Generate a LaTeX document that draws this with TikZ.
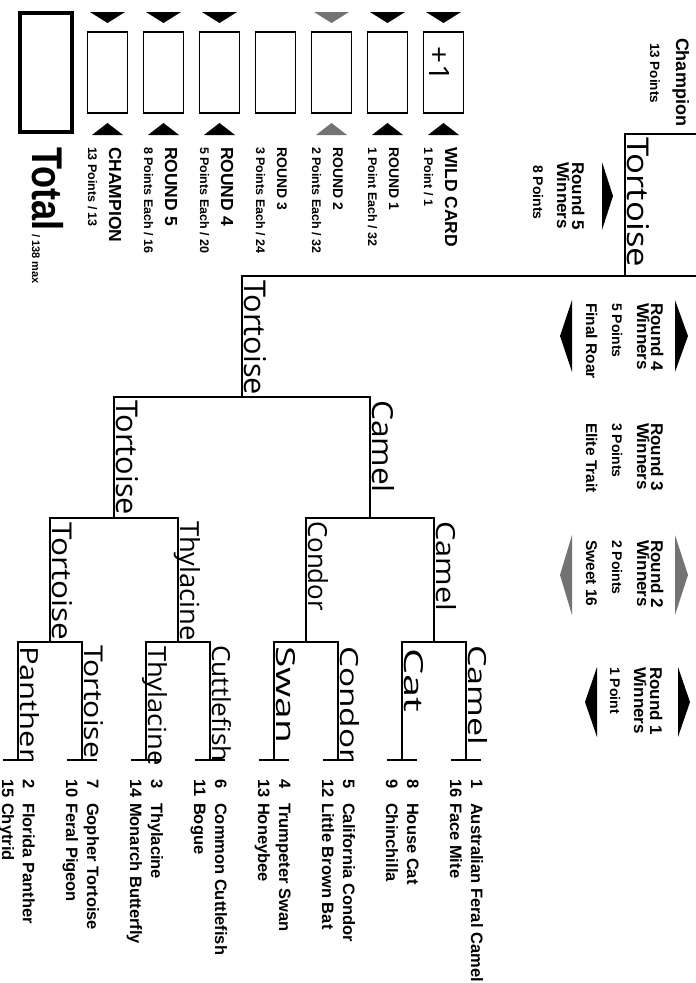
\documentclass[tikz,border=0pt]{standalone}
\usepackage{fontspec}
\usepackage{graphicx}
\setmainfont{Liberation Sans}
\newfontfamily\handfont{Open Sans}
\newcommand\fs[1]{\fontsize{#1}{#1}\selectfont}
\newcommand\hwr[3]{\resizebox{#1pt}{#2pt}{\handfont #3}}
\tikzset{
  br/.style={line width=2.4pt, line join=miter},
  txt/.style={rotate=-90, anchor=base west, inner sep=0pt, outer sep=0pt},
  ttl/.style={txt, font=\bfseries\fs{#1}},
  smalltxt/.style={txt, font=\bfseries\fs{#1}},
  sbox/.style={draw, line width=1.8pt, minimum width=40pt, minimum height=81pt, inner sep=0pt},
  tri/.style={fill=black},
  gtri/.style={fill=black!55},
}
\newcommand\legendcol[5]{%
  \node[sbox] (#2) at (#1+20.5,72.5) {};
  \node[ttl=#4] (#2-t) at (#1+22,147) {#3};
  \node[smalltxt=12.5] (#2-s) at (#1+1,147) {#5};
}
\newcommand\legtri[2]{%
  \fill[#2] (#1+3,12) -- (#1+38,12) -- (#1+20.5,23) -- cycle;
  \fill[#2] (#1+5,135) -- (#1+36,135) -- (#1+20.5,123) -- cycle;
}
\newcommand\seed[6]{% x, name, num1, name1, num2, name2
  \node[ttl=16.5] (#2-an) at (#1+5,779) {#3};
  \node[ttl=16.5] (#2-a) at (#1+5,803) {#4};
  \node[ttl=16.5] (#2-bn) at (#1-16,779) {#5};
  \node[ttl=16.5] (#2-b) at (#1-16,803) {#6};
}
\begin{document}
\begin{tikzpicture}[x=1pt,y=-1pt]
\path[use as bounding box] (0,0) rectangle (696,983);

% ---------- legend ----------
\node[draw, line width=3.5pt, minimum width=52pt, minimum height=119pt, inner sep=0pt] (total) at (46,72.5) {};
\node[txt, font=\bfseries\fs{43}] (totalt) at (32,147) {\scalebox{0.84}[1]{Total}};
\node[smalltxt=11] (totalm) at (32,234) {/ 138 max};

\legendcol{87}{champ}{CHAMPION}{17.5}{13 Points / 13}
\legendcol{143}{rv}{ROUND 5}{17.5}{8 Points Each / 16}
\legendcol{199}{riv}{ROUND 4}{17.5}{5 Points Each / 20}
\legendcol{255}{riii}{ROUND 3}{14}{3 Points Each / 24}
\legendcol{311}{rii}{ROUND 2}{14}{2 Points Each / 32}
\legendcol{367}{ri}{ROUND 1}{14}{1 Point Each / 32}
\legendcol{423}{wc}{WILD CARD}{17.5}{1 Point / 1}
\legtri{87}{tri}
\legtri{143}{tri}
\legtri{199}{tri}
\legtri{311}{gtri}
\legtri{367}{tri}
\legtri{423}{tri}
\node[txt, anchor=center] (plus) at (439,64) {\hwr{34}{20}{+1}};

% ---------- round headers ----------
\node[ttl=18] (hch) at (676,38) {Champion};
\node[smalltxt=13.5] (hchp) at (650,43) {13 Points};

\node[ttl=17] (h5a) at (572,162) {Round 5};
\node[ttl=17] (h5b) at (557,162) {Winners};
\node[smalltxt=14] (h5c) at (533,165) {8 Points};
\fill[tri] (602,162) -- (613,196) -- (602,230) -- cycle;

\node[ttl=17] (h4a) at (651,303) {Round 4};
\node[ttl=17] (h4b) at (637,303) {Winners};
\node[smalltxt=14] (h4c) at (612,303) {5 Points};
\node[ttl=15.5] (h4d) at (586,303) {Final Roar};
\fill[tri] (675,300) -- (688,336) -- (675,372) -- cycle;
\fill[tri] (572,300) -- (560,336) -- (572,372) -- cycle;

\node[ttl=17] (h3a) at (651,423) {Round 3};
\node[ttl=17] (h3b) at (637,423) {Winners};
\node[smalltxt=14] (h3c) at (612,423) {3 Points};
\node[ttl=15.5] (h3d) at (586,423) {Elite Trait};

\node[ttl=17] (h2a) at (651,540) {Round 2};
\node[ttl=17] (h2b) at (637,540) {Winners};
\node[smalltxt=14] (h2c) at (612,540) {2 Points};
\node[ttl=15.5] (h2d) at (586,540) {Sweet 16};
\fill[gtri] (675,535) -- (688,575) -- (675,615) -- cycle;
\fill[gtri] (572,535) -- (560,575) -- (572,615) -- cycle;

\node[ttl=17] (h1a) at (650,667) {Round 1};
\node[ttl=17] (h1b) at (634,667) {Winners};
\node[smalltxt=14] (h1c) at (610,667) {1 Point};
\fill[tri] (678,667) -- (690,702) -- (678,737) -- cycle;
\fill[tri] (597,667) -- (585,702) -- (597,737) -- cycle;

% ---------- bracket ----------
\foreach \i/\x in {1/18,2/82,3/146,4/210,5/274,6/338,7/402,8/466}{
  \coordinate (L\i) at (\x,642);
  \coordinate (L\i b) at (\x,760);
  \draw[br] ([xshift=-15pt]L\i b) -- ([xshift=15pt]L\i b);
}
\foreach \i/\x in {1/50,2/178,3/306,4/434}{
  \coordinate (M\i) at (\x,642);
  \coordinate (M\i t) at (\x,518);
}
\coordinate (N1) at (114,518); \coordinate (N1t) at (114,397);
\coordinate (N2) at (370,518); \coordinate (N2t) at (370,397);
\coordinate (O) at (242,397);  \coordinate (Ot) at (242,276);
\coordinate (E1) at (696,276);
\coordinate (P) at (625,276);  \coordinate (Pt) at (625,134);
\coordinate (E2) at (696,134);

\draw[br] (L1b) -- (L1) -- (L2) -- (L2b);
\draw[br] (L3b) -- (L3) -- (L4) -- (L4b);
\draw[br] (L5b) -- (L5) -- (L6) -- (L6b);
\draw[br] (L7b) -- (L7) -- (L8) -- (L8b);
\draw[br] (M1) -- (M1t) -- (M2t) -- (M2);
\draw[br] (M3) -- (M3t) -- (M4t) -- (M4);
\draw[br] (N1) -- (N1t) -- (N2t) -- (N2);
\draw[br] (O) -- (Ot) -- (E1);
\draw[br] (P) -- (Pt) -- (E2);

% ---------- handwritten picks ----------
\node[txt] (w-ch) at (627,137) {\hwr{130}{22}{Tortoise}};
\node[txt] (w-o) at (244,280) {\hwr{115}{22}{Tortoise}};
\node[txt] (w-n1) at (116,400) {\hwr{115}{22}{Tortoise}};
\node[txt] (w-n2) at (372,400) {\hwr{93}{22}{Camel}};
\node[txt] (w-m1) at (52,522) {\hwr{118}{20}{Tortoise}};
\node[txt] (w-m2) at (180,521) {\hwr{120}{20}{Thylacine}};
\node[txt] (w-m3) at (308,521) {\hwr{90}{20}{Condor}};
\node[txt] (w-m4) at (436,521) {\hwr{90}{20}{Camel}};
\node[txt] (w-l1) at (20,646) {\hwr{115}{19}{Panther}};
\node[txt] (w-l2) at (84,645) {\hwr{113}{19}{Tortoise}};
\node[txt] (w-l3) at (148,646) {\hwr{120}{19}{Thylacine}};
\node[txt] (w-l4) at (212,645) {\hwr{117}{19}{Cuttlefish}};
\node[txt] (w-l5) at (276,646) {\hwr{97}{19}{Swan}};
\node[txt] (w-l6) at (340,646) {\hwr{116}{19}{Condor}};
\node[txt] (w-l7) at (404,648) {\hwr{64}{19}{Cat}};
\node[txt] (w-l8) at (468,645) {\hwr{100}{19}{Camel}};

% ---------- seeds ----------
\seed{466}{s1}{1}{Australian Feral Camel}{16}{Face Mite}
\seed{402}{s2}{8}{House Cat}{9}{Chinchilla}
\seed{338}{s3}{5}{California Condor}{12}{Little Brown Bat}
\seed{274}{s4}{4}{Trumpeter Swan}{13}{Honeybee}
\seed{210}{s5}{6}{Common Cuttlefish}{11}{Bogue}
\seed{146}{s6}{3}{Thylacine}{14}{Monarch Butterfly}
\seed{82}{s7}{7}{Gopher Tortoise}{10}{Feral Pigeon}
\seed{18}{s8}{2}{Florida Panther}{15}{Chytrid}
\end{tikzpicture}
\end{document}
